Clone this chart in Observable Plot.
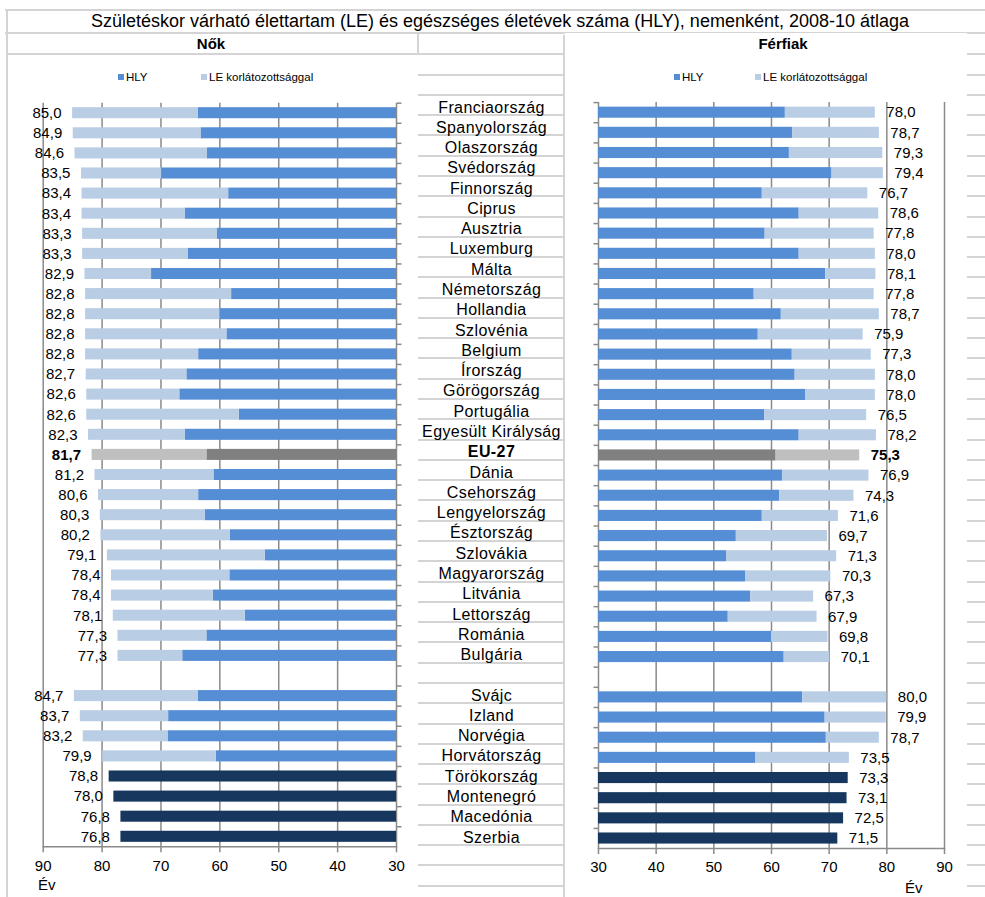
<!DOCTYPE html>
<html>
<head>
<meta charset="utf-8">
<script src="https://cdn.jsdelivr.net/npm/d3@7"></script>
<script src="https://cdn.jsdelivr.net/npm/@observablehq/plot@0.6"></script>
<style>
  html, body { margin: 0; padding: 0; background: #fff; }
  #wrap { position: relative; width: 985px; height: 897px; overflow: hidden; background: #fff;
          font-family: "Liberation Sans", Arial, sans-serif; color: #000; }
  .abs { position: absolute; white-space: nowrap; }
  .hl { position: absolute; height: 2px; background: #d4d4d4; }
  .vl { position: absolute; width: 2px; background: #d4d4d4; }
  .grid { position: absolute;
          background-image: repeating-linear-gradient(to bottom, transparent 0px, transparent 18.28px, #d4d4d4 18.28px, #d4d4d4 20.28px); }
  .leg { position: absolute; font-size: 11.5px; line-height: 14px; white-space: nowrap; }
  .sq { display: inline-block; width: 6px; height: 6px; margin-right: 2px; vertical-align: 1px; }
</style>
</head>
<body>
<div id="wrap">
  <div class="hl" style="left:5px;top:9px;width:980px"></div>
  <div class="hl" style="left:5px;top:32px;width:980px"></div>
  <div class="vl" style="left:6px;top:9px;height:888px"></div>
  <div class="hl" style="left:6px;top:53px;width:413px"></div>
  <div class="vl" style="left:417px;top:32px;height:22px"></div>
  <div class="grid" style="left:418px;top:34.9px;width:145px;height:863px;border-right:2px solid #d4d4d4"></div>
  <div class="grid" style="left:967px;top:34.9px;width:18px;height:863px"></div>

  <div class="abs" style="left:0;top:10.5px;width:1000px;text-align:center;font-size:18px;line-height:20px">Születéskor várható élettartam (LE) és egészséges életévek száma (HLY), nemenként, 2008-10 átlaga</div>

  <div id="left" class="abs" style="left:9px;top:54.5px"></div>
  <div id="center" class="abs" style="left:419px;top:54.5px"></div>
  <div id="right" class="abs" style="left:565px;top:33px"></div>

  <div class="abs" style="left:111px;top:34.2px;width:200px;text-align:center;font-size:15px;font-weight:bold;line-height:20px">Nők</div>
  <div class="abs" style="left:683px;top:34.2px;width:200px;text-align:center;font-size:15px;font-weight:bold;line-height:20px">Férfiak</div>

  <div class="leg" style="left:118px;top:70.1px"><span class="sq" style="background:#558ED5"></span>HLY</div>
  <div class="leg" style="left:201px;top:70.1px"><span class="sq" style="background:#B9CDE5"></span>LE korlátozottsággal</div>
  <div class="leg" style="left:674px;top:70.1px"><span class="sq" style="background:#558ED5"></span>HLY</div>
  <div class="leg" style="left:755px;top:70.1px"><span class="sq" style="background:#B9CDE5"></span>LE korlátozottsággal</div>

  <div class="abs" style="left:38px;top:877px;font-size:15px;line-height:15px">Év</div>
  <div class="abs" style="left:905px;top:880px;font-size:15px;line-height:15px">Év</div>
</div>
<script>
// ---- data ----
const countries = ["Franciaország","Spanyolország","Olaszország","Svédország","Finnország","Ciprus","Ausztria","Luxemburg","Málta","Németország","Hollandia","Szlovénia","Belgium","Írország","Görögország","Portugália","Egyesült Királyság","EU-27","Dánia","Csehország","Lengyelország","Észtország","Szlovákia","Magyarország","Litvánia","Lettország","Románia","Bulgária","","Svájc","Izland","Norvégia","Horvátország","Törökország","Montenegró","Macedónia","Szerbia"];
const womenLE  = [85.0,84.9,84.6,83.5,83.4,83.4,83.3,83.3,82.9,82.8,82.8,82.8,82.8,82.7,82.6,82.6,82.3,81.7,81.2,80.6,80.3,80.2,79.1,78.4,78.4,78.1,77.3,77.3,null,84.7,83.7,83.2,79.9,78.8,78.0,76.8,76.8];
const womenHLY = [63.7,63.2,62.1,69.9,58.5,65.9,60.4,65.4,71.6,58.0,60.0,58.8,63.6,65.6,66.8,56.7,65.9,62.2,61.0,63.6,62.5,58.2,52.3,58.3,61.1,55.7,62.2,66.3,null,63.7,68.7,68.8,60.6,null,null,null,null];
const menLE    = [78.0,78.7,79.3,79.4,76.7,78.6,77.8,78.0,78.1,77.8,78.7,75.9,77.3,78.0,78.0,76.5,78.2,75.3,76.9,74.3,71.6,69.7,71.3,70.3,67.3,67.9,69.8,70.1,null,80.0,79.9,78.7,73.5,73.3,73.1,72.5,71.5];
const menHLY   = [62.4,63.7,63.1,70.5,58.4,64.8,58.9,64.8,69.4,57.0,61.7,57.7,63.6,64.1,65.9,58.8,64.8,60.8,61.9,61.4,58.4,53.9,52.2,55.5,56.4,52.5,60.0,62.2,null,65.4,69.3,69.5,57.3,null,null,null,null];
const xTicks = [90,80,70,60,50,40,30];
const baseline = 30;

// ---- styles ----
const GRID = "#8a8a8a", HLY_C = "#558ED5", LE_C = "#B9CDE5", EU_D = "#808080", EU_L = "#BFBFBF", NAVY = "#17375E";
const FONT = "'Liberation Sans', Arial, sans-serif";
const fmt = v => v.toFixed(1).replace(".", ",");
const keys = countries.map(c => c === "" ? "\u00a0gap" : c);

function rowsOf(le, hly) {
  return countries.map((c, i) => ({key: keys[i], name: c, le: le[i], hly: hly[i], eu: c === "EU-27"}))
                  .filter(d => d.le != null);
}

function panel({le, hly, reversed, width, height, mL, mR, mT, mB}) {
  const rows = rowsOf(le, hly);
  const withH = rows.filter(d => d.hly != null);
  const noH = rows.filter(d => d.hly == null);
  const step = (height - mT - mB) / keys.length;
  const lblOpts = reversed ? {textAnchor: "end", dx: -11} : {textAnchor: "start", dx: 11};
  return Plot.plot({
    width, height, marginLeft: mL, marginRight: mR, marginTop: mT, marginBottom: mB,
    x: {domain: reversed ? [90, 30] : [30, 90]},
    y: {domain: keys, paddingInner: 0.45, paddingOuter: 0.225, round: false},
    color: {type: "identity"},
    style: {fontFamily: FONT, fontSize: "15px", background: "white", color: "black", overflow: "visible"},
    marks: [
      Plot.ruleX(xTicks, {stroke: GRID, strokeWidth: 1.5}),
      Plot.frame({anchor: "bottom", stroke: GRID, strokeWidth: 1.5}),
      Plot.axisX({ticks: xTicks, tickSize: 6, tickPadding: 7, stroke: GRID, strokeWidth: 1.5, fill: "black",
                  fontSize: 15, label: null, tickFormat: d => String(d)}),
      Plot.axisY({anchor: reversed ? "right" : "left", tickSize: 4.5, tickFormat: () => "", stroke: GRID,
                  strokeWidth: 1.5, dy: -step / 2, label: null}),
      Plot.barX(withH, {x1: () => baseline, x2: "hly", y: "key", fill: d => d.eu ? EU_D : HLY_C}),
      Plot.barX(withH, {x1: "hly", x2: "le", y: "key", fill: d => d.eu ? EU_L : LE_C}),
      Plot.barX(noH, {x1: () => baseline, x2: "le", y: "key", fill: NAVY}),
      Plot.text(rows.filter(d => !d.eu), {x: "le", y: "key", text: d => fmt(d.le), fontSize: 15, fill: "black", ...lblOpts}),
      Plot.text(rows.filter(d => d.eu), {x: "le", y: "key", text: d => fmt(d.le), fontSize: 15, fontWeight: "bold", fill: "black", ...lblOpts})
    ]
  });
}

document.getElementById("left").append(panel({
  le: womenLE, hly: womenHLY, reversed: true,
  width: 409, height: 842.5, mL: 33.7, mR: 22, mT: 47.65, mB: 51.15
}));

document.getElementById("right").append(panel({
  le: menLE, hly: menHLY, reversed: false,
  width: 402, height: 864, mL: 33, mR: 23, mT: 69.1, mB: 48.9
}));

const labelRows = countries.map((c, i) => ({key: keys[i], name: c})).filter(d => d.name !== "");
document.getElementById("center").append(Plot.plot({
  width: 144, height: 842.5, marginLeft: 0, marginRight: 0, marginTop: 48.06, marginBottom: 44.1,
  y: {domain: keys, axis: null, paddingInner: 0.45, paddingOuter: 0.225, round: false},
  style: {fontFamily: FONT, background: "transparent", color: "black", overflow: "visible", letterSpacing: "0.4px"},
  marks: [
    Plot.text(labelRows.filter(d => d.name !== "EU-27"), {y: "key", text: "name", frameAnchor: "middle", fontSize: 16, dy: -6.3, fill: "black"}),
    Plot.text(labelRows.filter(d => d.name === "EU-27"), {y: "key", text: "name", frameAnchor: "middle", fontSize: 16, dy: -6.3, fontWeight: "bold", fill: "black"})
  ]
}));
</script>
</body>
</html>
